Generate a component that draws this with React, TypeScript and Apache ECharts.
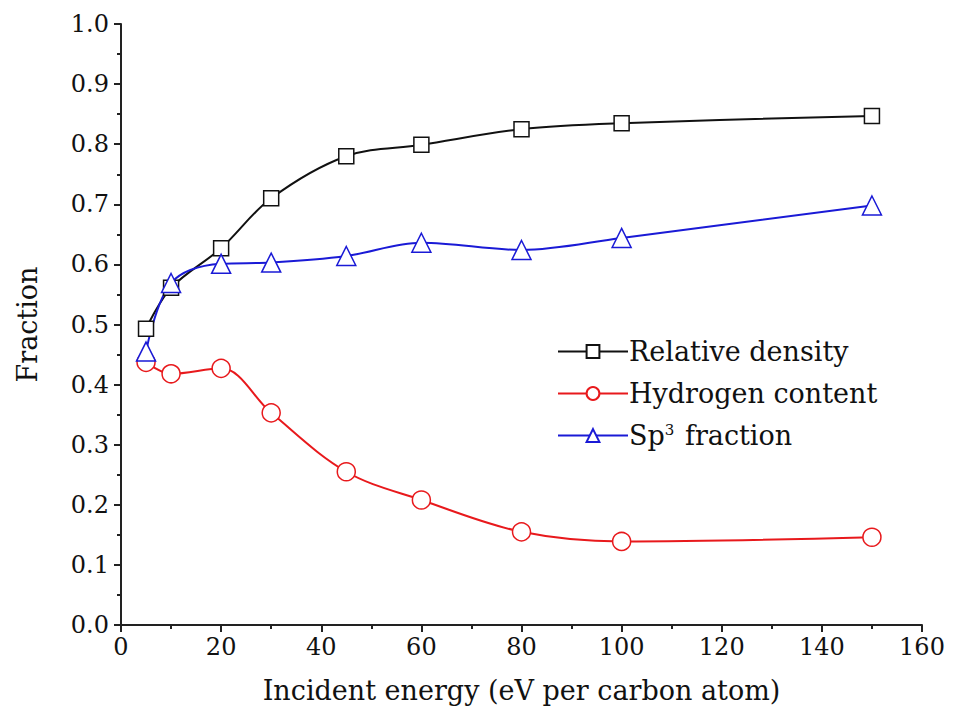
import React, { useEffect, useRef } from "react";
import * as echarts from "echarts";

const energy = [5, 10, 20, 30, 45, 60, 80, 100, 150];
const relativeDensity = [0.493, 0.561, 0.627, 0.71, 0.78, 0.799, 0.825, 0.835, 0.847];
const hydrogenContent = [0.437, 0.418, 0.427, 0.353, 0.255, 0.208, 0.155, 0.139, 0.146];
const sp3Fraction = [0.455, 0.569, 0.601, 0.603, 0.614, 0.636, 0.624, 0.644, 0.698];
const seriesNames = ["Relative density", "Hydrogen content", "Sp3 fraction"];

const FONT = "DejaVu Serif";

export default function App() {
  const ref = useRef<HTMLDivElement>(null);
  useEffect(() => {
    if (!ref.current) return;
    const chart = echarts.init(ref.current, null, { renderer: "svg" });
    const pair = (ys: number[]) => energy.map((x, i) => [x, ys[i]]);
    const mk = (name: string, ys: number[], color: string, symbol: string, size: number) => ({
      name,
      type: "line",
      data: pair(ys),
      smooth: 0.35,
      symbol,
      symbolSize: size,
      showAllSymbol: true,
      lineStyle: { color, width: 2 },
      itemStyle: { color: "#ffffff", borderColor: color, borderWidth: 1.5 },
      z: 3,
    });
    chart.setOption({
      animation: false,
      backgroundColor: "#ffffff",
      textStyle: { fontFamily: FONT },
      grid: { left: 121, right: 32, top: 24, bottom: 96, containLabel: false },
      legend: {
        left: 552,
        top: 333,
        orient: "vertical",
        itemWidth: 70,
        itemHeight: 16,
        itemGap: 15,
        data: seriesNames,
        formatter: (n: string) => (n === "Sp3 fraction" ? "Sp{sup|3} fraction" : n),
        textStyle: {
          fontFamily: FONT,
          fontSize: 27,
          color: "#111",
          padding: [0, 0, 0, -4],
          rich: {
            sup: { fontFamily: FONT, fontSize: 15, verticalAlign: "top", padding: [0, 2, 12, 0], color: "#111" },
          },
        },
      },
      xAxis: {
        type: "value",
        min: 0,
        max: 160,
        interval: 20,
        name: "Incident energy (eV per carbon atom)",
        nameLocation: "middle",
        nameGap: 52,
        nameTextStyle: { fontFamily: FONT, fontSize: 27, color: "#111" },
        axisLine: { lineStyle: { color: "#222", width: 2 } },
        axisTick: { inside: false, length: 7, lineStyle: { color: "#222", width: 2 } },
        minorTick: { show: true, splitNumber: 2, length: 4, lineStyle: { color: "#222", width: 2 } },
        splitLine: { show: false },
        axisLabel: { fontFamily: FONT, fontSize: 24, color: "#111", margin: 10 },
      },
      yAxis: {
        type: "value",
        min: 0,
        max: 1,
        interval: 0.1,
        name: "Fraction",
        nameLocation: "middle",
        nameGap: 80,
        nameTextStyle: { fontFamily: FONT, fontSize: 27, color: "#111" },
        axisLine: { show: true, lineStyle: { color: "#222", width: 2 } },
        axisTick: { show: true, inside: false, length: 7, lineStyle: { color: "#222", width: 2 } },
        minorTick: { show: true, splitNumber: 2, length: 4, lineStyle: { color: "#222", width: 2 } },
        splitLine: { show: false },
        axisLabel: {
          fontFamily: FONT,
          fontSize: 24,
          color: "#111",
          margin: 12,
          formatter: (v: number) => v.toFixed(1),
        },
      },
      series: [
        mk(seriesNames[0], relativeDensity, "#111111", "rect", 15),
        mk(seriesNames[1], hydrogenContent, "#e8191c", "circle", 18),
        mk(seriesNames[2], sp3Fraction, "#1a1ad6", "triangle", 19),
      ],
    });
    return () => chart.dispose();
  }, []);
  return (
    <div
      ref={ref}
      style={{ position: "fixed", left: 0, top: 0, width: 954, height: 721, background: "#fff" }}
    />
  );
}
